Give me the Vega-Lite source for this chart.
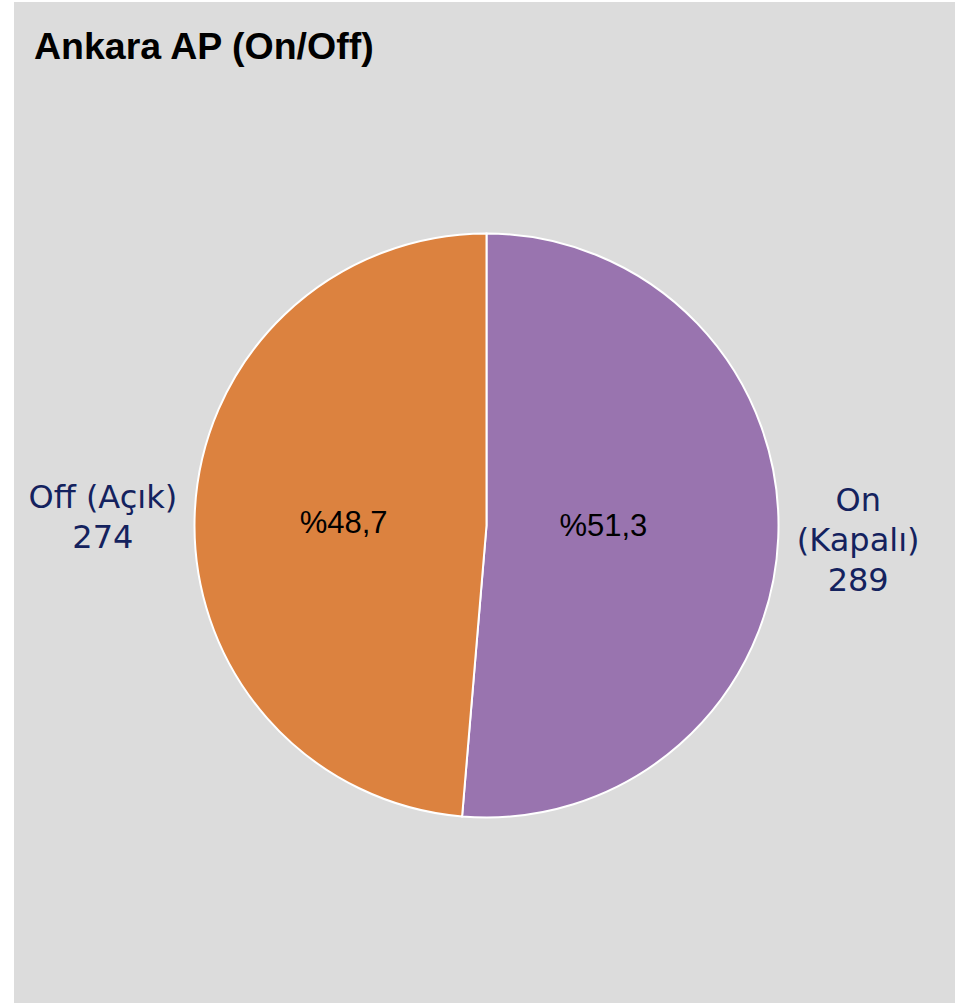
{
  "$schema": "https://vega.github.io/schema/vega-lite/v6.json",
  "width": 941,
  "height": 1001,
  "autosize": {"type": "none"},
  "padding": {"left": 14, "top": 2, "right": 8, "bottom": 0},
  "background": "white",
  "view": {"fill": "#DCDCDC", "stroke": null},
  "title": {
    "text": "Ankara AP (On/Off)",
    "orient": "top",
    "anchor": "start",
    "frame": "group",
    "offset": -94,
    "dx": 20,
    "baseline": "alphabetic",
    "font": "Liberation Sans",
    "fontSize": 37.5,
    "fontWeight": "bold",
    "color": "#000000"
  },
  "data": {
    "values": [
      {"state": "On (Kapalı)", "count": 289},
      {"state": "Off (Açık)", "count": 274}
    ]
  },
  "transform": [
    {"joinaggregate": [{"op": "sum", "field": "count", "as": "total"}]},
    {"calculate": "'%' + replace(format(datum.count / datum.total * 100, '.1f'), '.', ',')", "as": "pct"},
    {"calculate": "datum.state == 'On (Kapalı)' ? ['On', '(Kapalı)', '' + datum.count] : [datum.state, '' + datum.count]", "as": "lbl"}
  ],
  "encoding": {
    "theta": {"field": "count", "type": "quantitative", "stack": true},
    "order": {"field": "state", "sort": "descending"}
  },
  "layer": [
    {
      "mark": {"type": "arc", "outerRadius": 292, "stroke": "white", "strokeWidth": 2, "x": {"expr": "width/2 + 2"}, "y": {"expr": "height/2 + 23"}},
      "encoding": {
        "color": {"field": "state", "type": "nominal", "scale": {"domain": ["On (Kapalı)", "Off (Açık)"], "range": ["#9974AF", "#DC823F"]}, "legend": null}
      }
    },
    {
      "mark": {"type": "text", "radius": {"expr": "datum.state == 'On (Kapalı)' ? 117 : 143"}, "dy": {"expr": "datum.state == 'On (Kapalı)' ? -3 : 4"}, "font": "Liberation Sans", "fontSize": 31, "color": "#000000", "align": "center", "baseline": "middle", "x": {"expr": "width/2 + 2"}, "y": {"expr": "height/2 + 23"}},
      "encoding": {
        "text": {"field": "pct", "type": "nominal"}
      }
    },
    {
      "mark": {"type": "text", "radius": {"expr": "datum.state == 'On (Kapalı)' ? 372 : 384"}, "dy": {"expr": "datum.state == 'On (Kapalı)' ? -40 : -11"}, "font": "DejaVu Sans", "fontSize": 32, "lineHeight": 40, "color": "#14225E", "align": "center", "baseline": "middle", "x": {"expr": "width/2 + 2"}, "y": {"expr": "height/2 + 23"}},
      "encoding": {
        "text": {"field": "lbl", "type": "nominal"}
      }
    }
  ]
}
